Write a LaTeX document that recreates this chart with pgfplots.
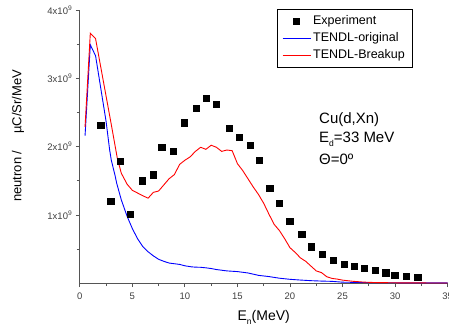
\documentclass[border=0pt]{standalone}
\usepackage{fontspec}
\setmainfont{Liberation Sans}
\usepackage{pgfplots}
\pgfplotsset{compat=1.18}
\definecolor{axgray}{HTML}{555555}
\begin{document}
\begin{tikzpicture}
\begin{axis}[
  at={(79.8pt,48.8pt)}, anchor=south west,
  scale only axis, width=367.8pt, height=273.2pt,
  xmin=0, xmax=35, ymin=0, ymax=4,
  axis x line*=bottom, axis y line*=left,
  axis line style={axgray, line width=1.1pt, -},
  tick align=outside,
  major tick length=4pt, minor tick length=3pt,
  every tick/.style={axgray, line width=0.8pt},
  xtick={0,5,...,35}, minor xtick={2.5,7.5,...,32.5},
  ytick={1,2,3,4}, minor ytick={0.5,1.5,2.5,3.5},
  yticklabels={1x10\textsuperscript{9},2x10\textsuperscript{9},3x10\textsuperscript{9},4x10\textsuperscript{9}},
  /pgf/number format/assume math mode=true,
  tick label style={font=\fontsize{9.5}{10}\selectfont, text=black!75},
  xticklabel style={yshift=-2pt},
  xlabel={E\raisebox{-4pt}{\fontsize{8.5}{8}\selectfont n}(MeV)},
  xlabel style={at={(axis description cs:0.5,-0.127)}, anchor=center, font=\fontsize{14}{15}\selectfont},
  ylabel={neutron /\hspace{1.3em}µC/Sr/MeV},
  ylabel style={at={(axis description cs:-0.168,0.54)}, anchor=center, font=\fontsize{13}{14}\selectfont},
  legend style={at={(0.536,1.004)}, anchor=north west, draw=black, line width=0.6pt,
    font=\fontsize{12.5}{13}\selectfont, inner xsep=5pt, inner ysep=4.5pt,
    row sep=2.5pt, cells={anchor=west}},
  legend image code/.code={\draw[mark repeat=2,mark phase=2,#1] plot coordinates {(0pt,0pt) (14pt,0pt) (28pt,0pt)};},
  clip=false,
]
\addplot[only marks, mark=square*, mark size=3.1pt, black] coordinates {
(1.99,2.31) (2.94,1.205) (3.83,1.79) (4.78,1.01) (5.95,1.50) (6.96,1.59)
(7.79,1.99) (8.87,1.93) (9.91,2.35) (11.06,2.56) (12.01,2.71) (12.96,2.62)
(14.2,2.27) (15.18,2.14) (16.22,2.02) (17.05,1.80) (18.07,1.39) (18.98,1.17)
(19.97,0.91) (21.11,0.72) (22.0,0.535) (23.04,0.42) (24.09,0.335) (25.14,0.28)
(26.09,0.25) (27.07,0.22) (28.12,0.19) (29.1,0.155) (29.96,0.115) (31.04,0.10)
(32.15,0.085)
};
\addlegendentry{Experiment}
\addplot[blue, line width=0.9pt] coordinates {
(0.5,2.16) (1.0,3.49) (1.5,3.33) (2.0,2.85) (2.5,2.37) (2.84,1.95) (3.0,1.80)
(3.38,1.56) (3.5,1.47) (3.95,1.22) (4.5,0.98) (5.0,0.80) (5.5,0.65) (6.0,0.535)
(6.5,0.46) (7.0,0.40) (7.5,0.35) (8.0,0.32) (8.5,0.295) (9.0,0.285) (9.5,0.275)
(10.0,0.255) (10.6,0.24) (11.0,0.235) (11.5,0.233) (12.0,0.225) (12.5,0.215)
(13.0,0.20) (13.5,0.19) (14.0,0.18) (15.0,0.17) (16.0,0.15) (17.0,0.115)
(18.0,0.097) (19.0,0.073) (20.0,0.057) (21.0,0.046) (22.0,0.037) (23.0,0.031)
(24.0,0.027) (25.0,0.015) (27.0,0.010) (30.0,0.006) (35.0,0.004)
};
\addlegendentry{TENDL-original}
\addplot[red, line width=0.9pt] coordinates {
(0.5,2.29) (1.0,3.66) (1.5,3.58) (2.0,3.16) (2.5,2.74) (3.0,2.32) (3.57,1.83)
(3.95,1.61) (4.5,1.45) (5.0,1.36) (5.5,1.32) (6.0,1.28) (6.5,1.245) (7.0,1.33)
(7.5,1.35) (8.0,1.44) (8.5,1.53) (9.0,1.59) (9.5,1.74) (10.0,1.80) (10.5,1.85)
(11.0,1.93) (11.5,1.99) (12.0,1.96) (12.5,2.02) (13.0,1.99) (13.5,1.93)
(14.0,1.95) (14.5,1.94) (15.0,1.75) (15.5,1.65) (16.0,1.53) (16.5,1.41)
(17.0,1.30) (17.5,1.17) (18.0,1.01) (18.5,0.86) (19.0,0.77) (19.5,0.65)
(20.0,0.52) (20.5,0.45) (21.0,0.37) (21.5,0.32) (22.0,0.25) (22.5,0.18)
(23.0,0.155) (23.5,0.095) (24.0,0.07) (24.5,0.06) (25.0,0.045) (26.0,0.028)
(27.0,0.016) (28.0,0.010) (30.0,0.006) (32.0,0.004) (35.0,0.003)
};
\addlegendentry{TENDL-Breakup}
\node[anchor=base west, font=\fontsize{15}{16}\selectfont, inner sep=0pt] at (axis cs:22.76,2.334) {Cu(d,Xn)};
\node[anchor=base west, font=\fontsize{15}{16}\selectfont, inner sep=0pt] at (axis cs:22.76,2.055) {E\raisebox{-4pt}{\fontsize{8.5}{8}\selectfont d}=33 MeV};
\node[anchor=base west, font=\fontsize{15}{16}\selectfont, inner sep=0pt] at (axis cs:22.76,1.733) {Θ=0º};
\end{axis}
\pgfresetboundingbox
\path (0pt,0pt) rectangle (449pt,332pt);
\end{tikzpicture}
\end{document}
